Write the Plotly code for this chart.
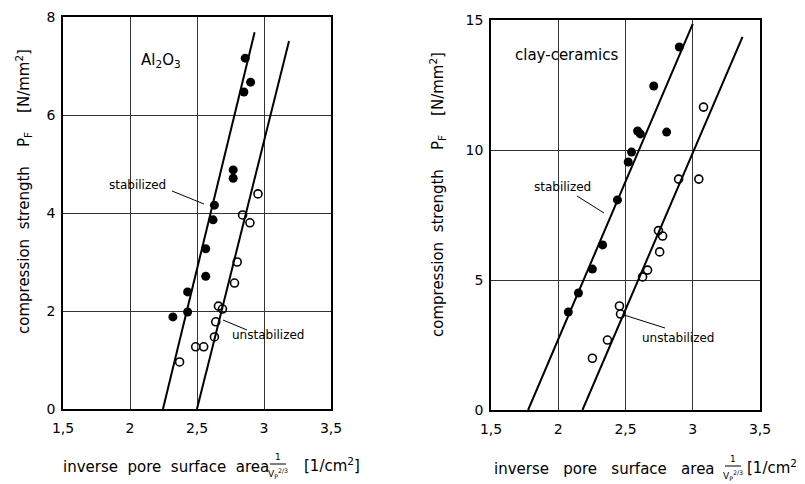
import plotly.graph_objects as go

# the page body has an 8px margin, so the figure is sized to fit the window
OFF = 8
W, H = 805 - OFF, 484 - OFF

# ---------------- data ----------------
al_stab_x = [2.86, 2.90, 2.85, 2.77, 2.77, 2.63, 2.62, 2.565, 2.565, 2.43, 2.43, 2.32]
al_stab_y = [7.16, 6.67, 6.47, 4.88, 4.71, 4.16, 3.86, 3.27, 2.71, 2.39, 1.98, 1.88]
al_unst_x = [2.955, 2.84, 2.895, 2.80, 2.78, 2.66, 2.69, 2.64, 2.63, 2.49, 2.55, 2.37]
al_unst_y = [4.39, 3.96, 3.80, 3.00, 2.57, 2.10, 2.04, 1.78, 1.47, 1.27, 1.27, 0.96]
al_stab_fit_x = [2.246, 2.93]
al_stab_fit_y = [0.0, 7.69]
al_unst_fit_x = [2.50, 3.187]
al_unst_fit_y = [0.0, 7.51]

cl_stab_x = [2.90, 2.71, 2.59, 2.61, 2.806, 2.545, 2.52, 2.44, 2.33, 2.254, 2.15, 2.075]
cl_stab_y = [13.96, 12.46, 10.73, 10.62, 10.69, 9.92, 9.54, 8.08, 6.35, 5.42, 4.50, 3.77]
cl_unst_x = [3.08, 3.045, 2.895, 2.745, 2.776, 2.754, 2.664, 2.627, 2.455, 2.463, 2.366, 2.254]
cl_unst_y = [11.65, 8.88, 8.88, 6.90, 6.69, 6.08, 5.38, 5.12, 4.00, 3.69, 2.69, 1.99]
cl_stab_fit_x = [1.776, 3.0]
cl_stab_fit_y = [0.0, 14.85]
cl_unst_fit_x = [2.18, 3.37]
cl_unst_fit_y = [0.0, 14.35]

x_range = [1.5, 3.5]
al_y_range = [0, 8]
cl_y_range = [0, 15]

FONT = "DejaVu Sans"

def px(x):
    return (x - OFF) / W

def py(y):
    return 1 - (y - OFF) / H

fig = go.Figure()

filled = dict(mode="markers", marker=dict(symbol="circle", size=9, color="black"), showlegend=False)
opened = dict(mode="markers", marker=dict(symbol="circle-open", size=8, color="black",
                                          line=dict(width=1.6, color="black")), showlegend=False)
fitline = dict(mode="lines", line=dict(color="black", width=2), showlegend=False)

fig.add_trace(go.Scatter(x=al_stab_fit_x, y=al_stab_fit_y, xaxis="x", yaxis="y", **fitline))
fig.add_trace(go.Scatter(x=al_unst_fit_x, y=al_unst_fit_y, xaxis="x", yaxis="y", **fitline))
fig.add_trace(go.Scatter(x=al_stab_x, y=al_stab_y, xaxis="x", yaxis="y", **filled))
fig.add_trace(go.Scatter(x=al_unst_x, y=al_unst_y, xaxis="x", yaxis="y", **opened))

fig.add_trace(go.Scatter(x=cl_stab_fit_x, y=cl_stab_fit_y, xaxis="x2", yaxis="y2", **fitline))
fig.add_trace(go.Scatter(x=cl_unst_fit_x, y=cl_unst_fit_y, xaxis="x2", yaxis="y2", **fitline))
fig.add_trace(go.Scatter(x=cl_stab_x, y=cl_stab_y, xaxis="x2", yaxis="y2", **filled))
fig.add_trace(go.Scatter(x=cl_unst_x, y=cl_unst_y, xaxis="x2", yaxis="y2", **opened))

axis_common = dict(showline=True, linecolor="black", linewidth=1.5, mirror=True,
                   showgrid=True, gridcolor="#333333", gridwidth=1, automargin=False,
                   zeroline=False, ticks="", tickfont=dict(family=FONT, size=14, color="black"),
                   fixedrange=True)

fig.update_layout(
    width=W, height=H,
    margin=dict(l=0, r=0, t=0, b=0),
    paper_bgcolor="white", plot_bgcolor="white",
    separators=",.",
    font=dict(family=FONT, color="black"),
    xaxis=dict(domain=[px(63), px(331)], range=x_range, dtick=0.5, anchor="y",
               ticklabelstandoff=5, **axis_common),
    yaxis=dict(domain=[py(409), py(17)], range=al_y_range, dtick=2, anchor="x",
               ticklabelstandoff=3, **axis_common),
    xaxis2=dict(domain=[px(491), px(760)], range=x_range, dtick=0.5, anchor="y2",
                ticklabelstandoff=5, **axis_common),
    yaxis2=dict(domain=[py(410), py(20)], range=cl_y_range, dtick=5, anchor="x2",
                ticklabelstandoff=3, **axis_common),
)

ann = []
def text(x, y, t, size=13, angle=0, xanchor="center", yanchor="middle"):
    ann.append(dict(x=px(x), y=py(y), xref="paper", yref="paper", text=t, showarrow=False,
                    font=dict(family=FONT, size=size, color="black"), textangle=angle,
                    xanchor=xanchor, yanchor=yanchor))

shapes = []
def seg(x0, y0, x1, y1, w=1):
    shapes.append(dict(type="line", xref="paper", yref="paper", x0=px(x0), y0=py(y0),
                       x1=px(x1), y1=py(y1), line=dict(color="black", width=w)))

# panel labels
text(161, 60, "Al<sub>2</sub>O<sub>3</sub>", size=15)
text(566, 55, "clay-ceramics", size=15)

# callouts
text(137, 185, "stabilized", size=12)
seg(172, 191, 204, 204)
text(562, 187, "stabilized", size=12)
seg(577, 196, 604, 213)
text(268, 335, "unstabilized", size=12)
seg(223, 320, 247, 330)
text(678, 338, "unstabilized", size=12)
seg(624, 315, 665, 328)

# y axis titles
sp = "&nbsp;"
ytitle = ("compression" + sp * 2 + "strength" + sp * 4 + "P<sub>F</sub>" + sp * 4 +
          "[N/mm<sup>2</sup>]")
text(24, 192, ytitle, size=15, angle=-90)
text(438, 195, ytitle, size=15, angle=-90)

# x axis titles with fraction
def xtitle(x_start, gap, frac_x, y, bracket_x):
    t = ("inverse" + sp * gap + "pore" + sp * gap + "surface" + sp * gap + "area")
    text(x_start, y, t, size=15, xanchor="left")
    text(frac_x, y - 10, "1", size=9)
    seg(frac_x - 8, y - 3, frac_x + 8, y - 3, w=1)
    text(frac_x, y + 6, "V<sub>P</sub><sup>2/3</sup>", size=9)
    text(bracket_x, y - 2, "[1/cm<sup>2</sup>]", size=15, xanchor="left")

xtitle(61, 2, 278, 467, 302)
xtitle(492, 3, 733, 469, 745)

fig.update_layout(annotations=ann, shapes=shapes)

fig.write_html("out.html")
